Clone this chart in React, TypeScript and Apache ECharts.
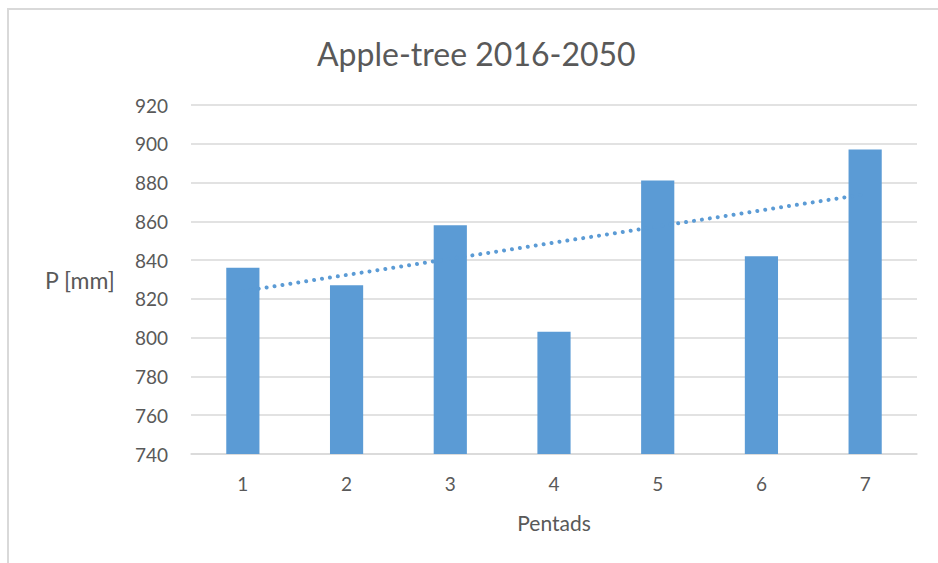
import React, { useEffect, useRef } from "react";
import * as echarts from "echarts";

const categories = ["1", "2", "3", "4", "5", "6", "7"];
const precipitation = [836, 827, 858, 803, 881, 842, 897];
const trendEnds: [string, number][] = [["1", 824], ["7", 874]];
const yTicks = { min: 740, max: 920, interval: 20 };

const FONT = "Lato, 'Open Sans', sans-serif";
const TEXT = "#595959";
const BLUE = "#5b9bd5";

export default function App() {
  const ref = useRef<HTMLDivElement>(null);
  useEffect(() => {
    if (!ref.current) return;
    const chart = echarts.init(ref.current, undefined, { renderer: "svg" });
    chart.setOption({
      animation: false,
      backgroundColor: "#ffffff",
      textStyle: { fontFamily: FONT },
      title: {
        text: "Apple-tree 2016-2050",
        left: 312,
        top: 32,
        textStyle: { fontFamily: FONT, fontSize: 32, fontWeight: "normal", color: TEXT },
      },
      grid: { left: 191, right: 21, top: 105, bottom: 109 },
      graphic: [
        {
          type: "rect",
          shape: { x: 8, y: 9, width: 940, height: 560 },
          style: { fill: "none", stroke: "#d9d9d9", lineWidth: 2 },
          silent: true,
        },
        {
          type: "text",
          left: 45,
          top: 268,
          style: { text: "P [mm]", fontFamily: FONT, fontSize: 23, fill: TEXT },
        },
      ],
      xAxis: {
        type: "category",
        data: categories,
        name: "Pentads",
        nameLocation: "middle",
        nameGap: 58,
        nameTextStyle: { fontFamily: FONT, fontSize: 21, color: TEXT },
        axisLine: { show: true, lineStyle: { color: "#d9d9d9", width: 1.5 } },
        axisTick: { show: false },
        axisLabel: { fontFamily: FONT, fontSize: 19, color: TEXT, margin: 20 },
      },
      yAxis: {
        type: "value",
        min: yTicks.min,
        max: yTicks.max,
        interval: yTicks.interval,
        axisLine: { show: false },
        axisTick: { show: false },
        axisLabel: { fontFamily: FONT, fontSize: 19, color: TEXT, margin: 23 },
        splitLine: { lineStyle: { color: "#d9d9d9", width: 1.5 } },
      },
      series: [
        {
          type: "bar",
          data: precipitation,
          barWidth: "32%",
          itemStyle: { color: BLUE },
        },
        {
          type: "line",
          data: trendEnds,
          symbol: "none",
          lineStyle: { color: BLUE, width: 4, type: [0.01, 8], cap: "round" },
          z: 5,
        },
      ],
    });
    return () => chart.dispose();
  }, []);
  return (
    <div
      ref={ref}
      style={{ position: "fixed", left: 0, top: 0, width: 938, height: 563 }}
    />
  );
}
